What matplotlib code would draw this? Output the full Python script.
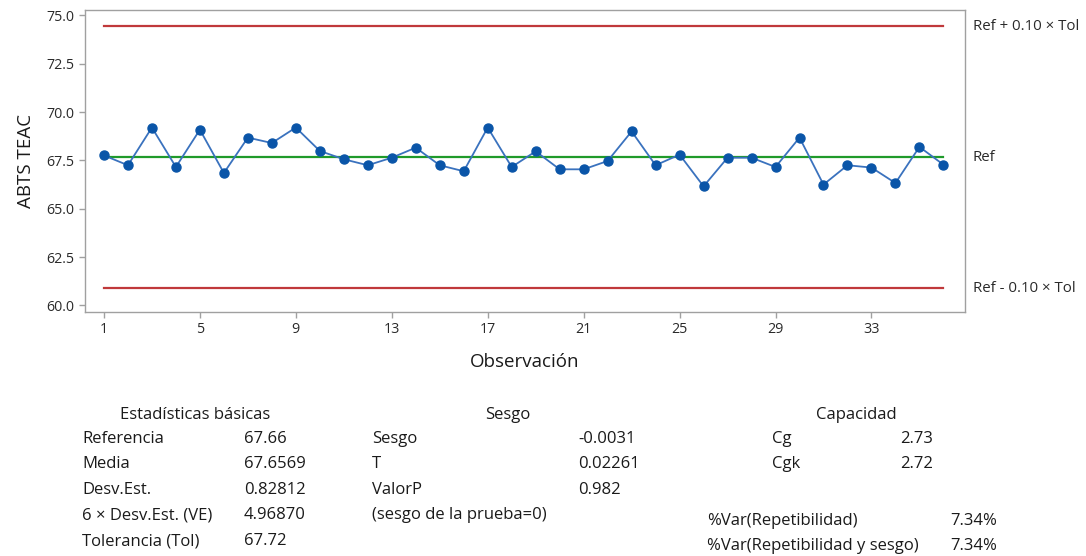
import matplotlib
matplotlib.use("Agg")
import matplotlib.pyplot as plt
import numpy as np

plt.rcParams['font.family'] = ['Open Sans', 'DejaVu Sans']

obs = list(range(1, 37))
values = [67.76, 67.25, 69.20, 67.16, 69.09, 66.85, 68.68, 68.40, 69.20, 67.99,
          67.56, 67.25, 67.64, 68.16, 67.25, 66.94, 69.20, 67.16, 67.97, 67.04,
          67.04, 67.47, 69.00, 67.25, 67.80, 66.16, 67.64, 67.64, 67.16, 68.68,
          66.25, 67.25, 67.13, 66.33, 68.20, 67.28]
ref = 67.66
tol = 67.72
upper = ref + 0.10 * tol
lower = ref - 0.10 * tol
yticks = [60.0, 62.5, 65.0, 67.5, 70.0, 72.5, 75.0]
xticks = [1, 5, 9, 13, 17, 21, 25, 29, 33]

basic_labels = ["Referencia", "Media", "Desv.Est.", "6 × Desv.Est. (VE)", "Tolerancia (Tol)"]
basic_values = ["67.66", "67.6569", "0.82812", "4.96870", "67.72"]
bias_labels = ["Sesgo", "T", "ValorP", "(sesgo de la prueba=0)"]
bias_values = ["-0.0031", "0.02261", "0.982", ""]
cap_labels = ["Cg", "Cgk"]
cap_values = ["2.73", "2.72"]
var_labels = ["%Var(Repetibilidad)", "%Var(Repetibilidad y sesgo)"]
var_values = ["7.34%", "7.34%"]

W, H = 1086, 556
fig = plt.figure(figsize=(W / 100, H / 100), dpi=100)
ax = fig.add_axes([85 / W, 1 - 312 / H, (965 - 85) / W, (312 - 10) / H])

ax.set_xlim(0.21, 36.9)
ax.set_ylim(59.66, 75.28)

red = '#C0393B'
ax.plot([obs[0], obs[-1]], [upper, upper], color=red, lw=1.6)
ax.plot([obs[0], obs[-1]], [lower, lower], color=red, lw=1.6)
ax.plot([obs[0], obs[-1]], [ref, ref], color='#1F9A2A', lw=1.6)

ax.plot(obs, values, color='#3A72BE', lw=1.3, marker='o', ms=6.5,
        mfc='#0A55A8', mec='#0A55A8', zorder=5)

ax.set_xticks(xticks)
ax.set_yticks(yticks)
ax.set_yticklabels([f"{v:.1f}" for v in yticks])
for s in ax.spines.values():
    s.set_color('#A0A0A0')
    s.set_linewidth(1.0)
ax.tick_params(colors='#A0A0A0', labelcolor='#2a2a2a', labelsize=10.3, length=4, width=1)
ax.set_ylabel("ABTS TEAC", fontsize=13.5, color='#1a1a1a', labelpad=8)
ax.set_xlabel("Observación", fontsize=13.5, color='#1a1a1a', labelpad=11)

trans = ax.get_yaxis_transform()
for yv, txt in [(upper, "Ref + 0.10 × Tol"), (ref, "Ref"), (lower, "Ref - 0.10 × Tol")]:
    ax.text(1.009, yv, txt, transform=trans, fontsize=10.8, color='#2a2a2a',
            va='center', ha='left')

def T(x, y, s, ha='left', size=12):
    fig.text(x / W, 1 - y / H, s, ha=ha, va='center', fontsize=size, color='#1a1a1a')

rows_y = [439, 464, 490, 515, 541]
T(195, 415, "Estadísticas básicas", ha='center')
for y, l, v in zip(rows_y, basic_labels, basic_values):
    T(82, y, l)
    T(244, y, v)
T(508, 415, "Sesgo", ha='center')
for y, l, v in zip(rows_y, bias_labels, bias_values):
    T(372, y, l)
    T(578, y, v)
T(856, 415, "Capacidad", ha='center')
for y, l, v in zip(rows_y, cap_labels, cap_values):
    T(772, y, l)
    T(900, y, v)
for y, l, v in zip([521, 546], var_labels, var_values):
    T(707, y, l)
    T(950, y, v)

fig.savefig("out.png", dpi=100)
